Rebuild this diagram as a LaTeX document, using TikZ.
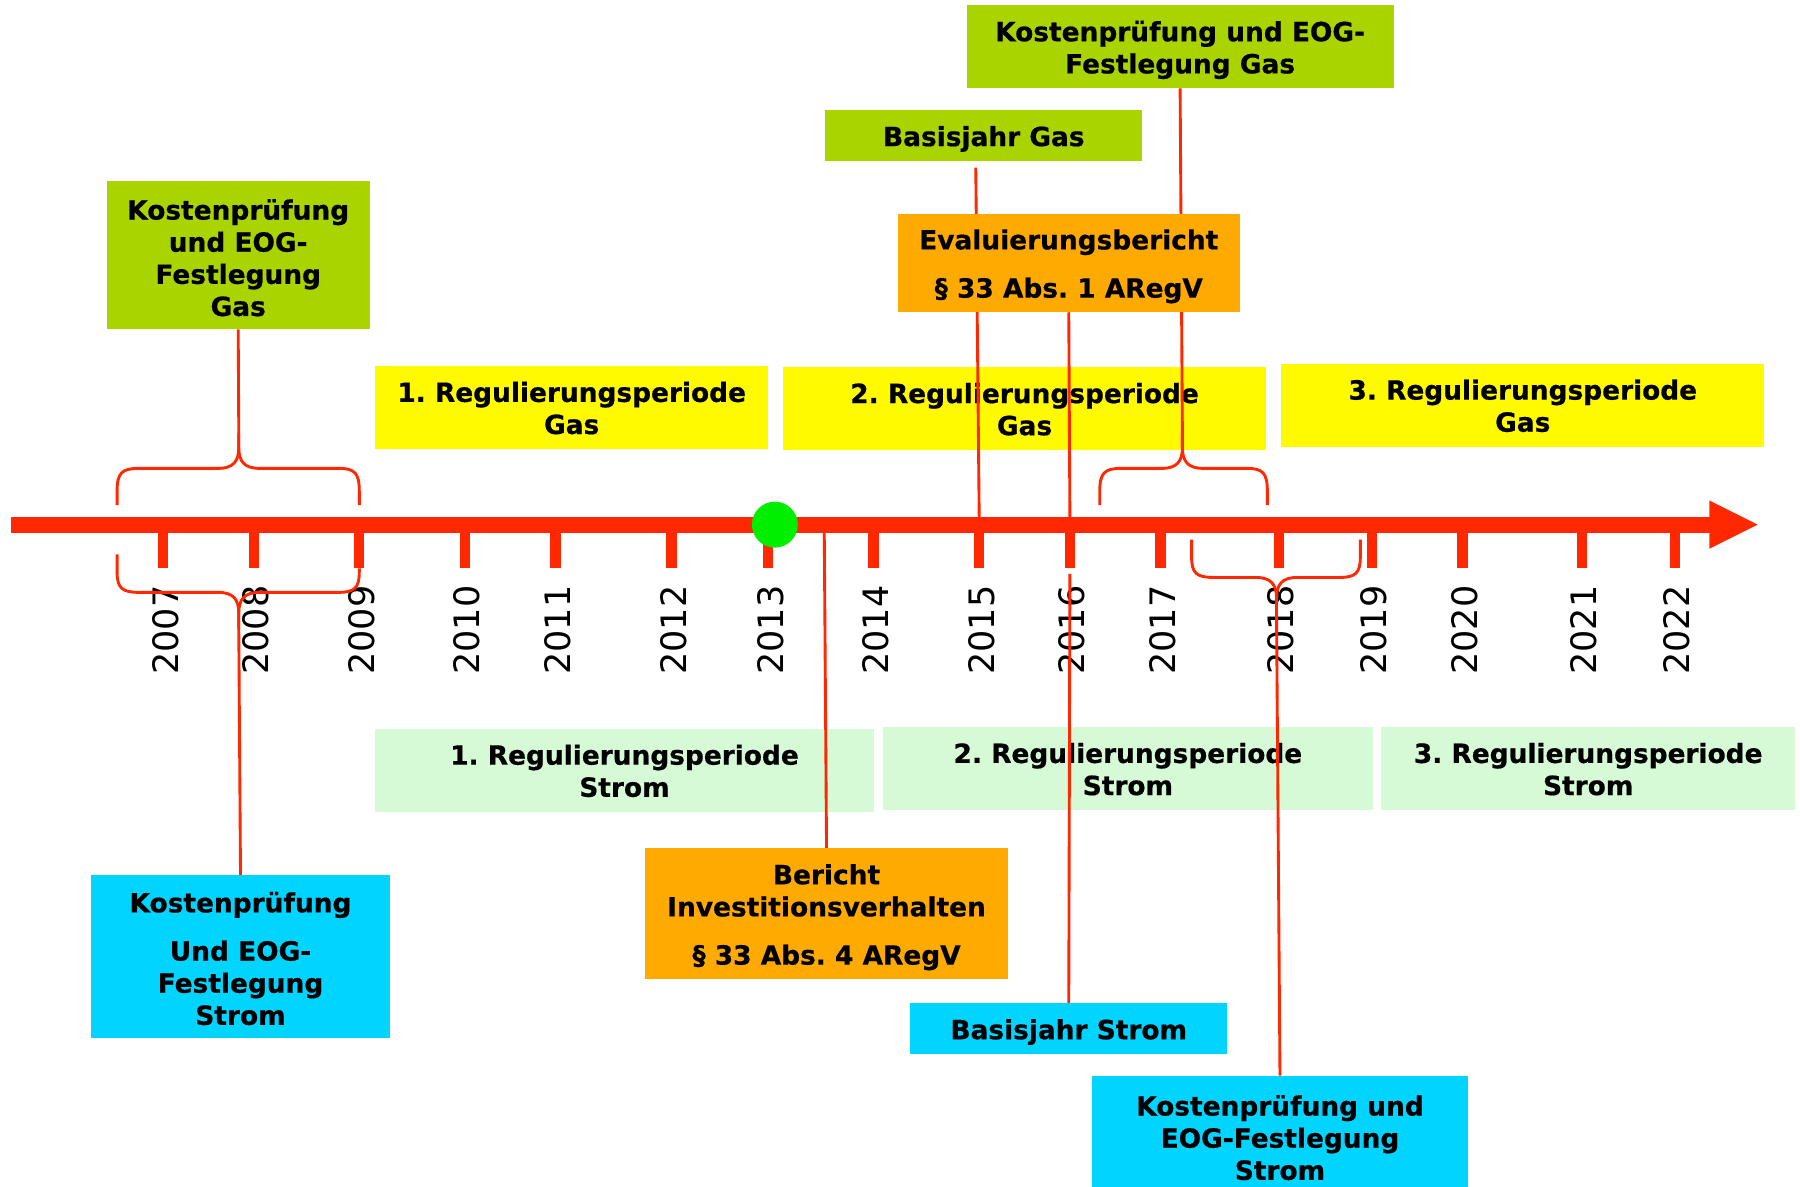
\documentclass[tikz,border=0pt]{standalone}
\usepackage{fontspec}
\setmainfont[BoldFeatures={FakeBold=0.6}]{DejaVu Sans}
\definecolor{kgreen}{RGB}{170,212,0}
\definecolor{kyellow}{RGB}{255,250,0}
\definecolor{korange}{RGB}{255,170,0}
\definecolor{kcyan}{RGB}{0,212,255}
\definecolor{klight}{RGB}{213,250,213}
\definecolor{kred}{RGB}{255,40,0}
\definecolor{kdot}{RGB}{0,238,0}
\pgfdeclarelayer{lower}
\pgfdeclarelayer{mid}
\pgfsetlayers{lower,mid,main}
\tikzset{
  boxtext/.style={inner sep=0pt, align=center, text=black,
    font=\bfseries\fontsize{23}{28}\selectfont\frenchspacing},
  box/.style={inner sep=0pt, outer sep=0pt},
  gasbox/.style={box, fill=kgreen},
  perbox/.style={box, fill=kyellow},
  strbox/.style={box, fill=klight},
  orbox/.style={box, fill=korange},
  cybox/.style={box, fill=kcyan},
  yearlbl/.style={rotate=90, anchor=west, inner sep=0pt, font=\fontsize{30.5}{36}\selectfont},
  tickmark/.style={kred, line width=9pt},
  conn/.style={kred, line width=2.5pt},
  bracepath/.style={kred, line width=2.5pt, line join=round},
}
\newcommand{\tbox}[7]{% style, name, center, width, height, text shift, text
  \node[#1, minimum width=#4, minimum height=#5] (#2) at #3 {};
  \node[boxtext, yshift=#6] (#2-t) at (#2.center) {#7};
}
\begin{document}
\begin{tikzpicture}[x=1pt,y=-1pt]
\useasboundingbox (0,0) rectangle (1568,1034);
\clip (0,0) rectangle (1568,1034);

\begin{pgfonlayer}{lower}
\fill[white] (0,0) rectangle (1568,1034);
% period boxes
\tbox{perbox}{gp1}{(498,355)}{342}{72}{-0.5pt}{1. Regulierungsperiode\\Gas}
\tbox{perbox}{gp2}{(892.5,356)}{421}{72}{-0.5pt}{2. Regulierungsperiode\\Gas}
\tbox{perbox}{gp3}{(1326.5,353)}{421}{72}{-0.5pt}{3. Regulierungsperiode\\Gas}
\tbox{strbox}{sp1}{(544,671)}{434}{72}{-0.5pt}{1. Regulierungsperiode\\Strom}
\tbox{strbox}{sp2}{(982.5,669.5)}{427}{73}{-0.5pt}{2. Regulierungsperiode\\Strom}
\tbox{strbox}{sp3}{(1383.5,669.5)}{361}{73}{-0.5pt}{3. Regulierungsperiode\\Strom}
% axis
\coordinate (axL) at (10,457);
\coordinate (axR) at (1492,457);
\draw[kred, line width=14pt] (axL) -- (axR);
\fill[kred] (1489,436) -- (1531,457) -- (1489,478) -- cycle;
\foreach \x/\y in {142/2007,221/2008,313/2009,405/2010,484/2011,585/2012,669/2013,761/2014,853/2015,932/2016,1011/2017,1114/2018,1195/2019,1274/2020,1378/2021,1459/2022}{
  \draw[tickmark] (\x,457) -- (\x,495);
  \node[yearlbl] (y\y) at (\x+2,588) {\y};
}
\end{pgfonlayer}

% event boxes
\tbox{gasbox}{gkp1}{(207.5,222.5)}{229}{129}{-2pt}{Kostenprüfung\\und EOG-\\Festlegung\\Gas}
\tbox{gasbox}{bgas}{(857,118)}{276}{44}{-3pt}{Basisjahr Gas}
\tbox{gasbox}{gkp2}{(1028,40.5)}{372}{73}{-3pt}{Kostenprüfung und EOG-\\Festlegung Gas}
\tbox{orbox}{eval}{(931,229)}{298}{86}{-3pt}{Evaluierungsbericht\\[14pt]§ 33 Abs. 1 ARegV}
\tbox{cybox}{skp1}{(209.5,833)}{261}{142}{-2pt}{Kostenprüfung\\[14pt]Und EOG-\\Festlegung\\Strom}
\tbox{orbox}{ber}{(720,796)}{316}{114}{-3pt}{Bericht\\Investitionsverhalten\\[14pt]§ 33 Abs. 4 ARegV}
\tbox{cybox}{bstr}{(931,896)}{276}{44}{-3pt}{Basisjahr Strom}
\tbox{cybox}{skp2}{(1115,988)}{328}{102}{-3pt}{Kostenprüfung und\\EOG-Festlegung\\Strom}

\node[circle, fill=kdot, minimum size=40pt, inner sep=0pt] (now) at (675,457) {};

\coordinate (b1t) at (208,378);
\coordinate (b2t) at (208,548);
\coordinate (b3t) at (1030,380);
\coordinate (b4t) at (1112,535);
\coordinate (c2015) at (853,452);
\coordinate (c2016a) at (932,452);
\coordinate (c2016b) at (932,500);
\coordinate (cBer) at (718,462);

\begin{pgfonlayer}{mid}
% braces
\draw[bracepath] (102,440) -- (102,428) .. controls (102,412) and (106,408) .. (121,408) -- (190,408) .. controls (203,408) and (208,402) .. (208,390) -- (b1t);
\draw[bracepath] (b1t) -- (208,390) .. controls (208,402) and (213,408) .. (226,408) -- (295,408) .. controls (309,408) and (313,412) .. (313,428) -- (313,440);
\draw[bracepath] (102,483) -- (102,498) .. controls (102,512) and (106,516) .. (121,516) -- (190,516) .. controls (203,516) and (208,522) .. (208,534) -- (b2t);
\draw[bracepath] (b2t) -- (208,534) .. controls (208,522) and (213,516) .. (226,516) -- (295,516) .. controls (309,516) and (313,512) .. (313,498) -- (313,495);
\draw[bracepath] (958,440) -- (958,428) .. controls (958,412) and (962,408) .. (977,408) -- (1012,408) .. controls (1025,408) and (1030,402) .. (1030,390) -- (b3t);
\draw[bracepath] (b3t) -- (1030,390) .. controls (1030,402) and (1035,408) .. (1048,408) -- (1086,408) .. controls (1100,408) and (1104,412) .. (1104,428) -- (1104,440);
\draw[bracepath] (1038,470) -- (1038,485) .. controls (1038,499) and (1042,503) .. (1057,503) -- (1094,503) .. controls (1107,503) and (1112,509) .. (1112,521) -- (b4t);
\draw[bracepath] (b4t) -- (1112,521) .. controls (1112,509) and (1117,503) .. (1130,503) -- (1167,503) .. controls (1181,503) and (1185,499) .. (1185,485) -- (1185,470);
% connectors
\draw[conn] (gkp1.south) -- (b1t);
\draw[conn] (b2t) -- (skp1.north);
\draw[conn] ([xshift=-7pt,yshift=-6pt]bgas.south) -- (c2015);
\draw[conn] (gkp2.south) -- (b3t);
\draw[conn] (eval.south) -- (c2016a);
\draw[conn] (cBer) -- (ber.north);
\draw[conn] (bstr.north) -- (c2016b);
\draw[conn] (skp2.north) -- (b4t);
\end{pgfonlayer}
\end{tikzpicture}
\end{document}
